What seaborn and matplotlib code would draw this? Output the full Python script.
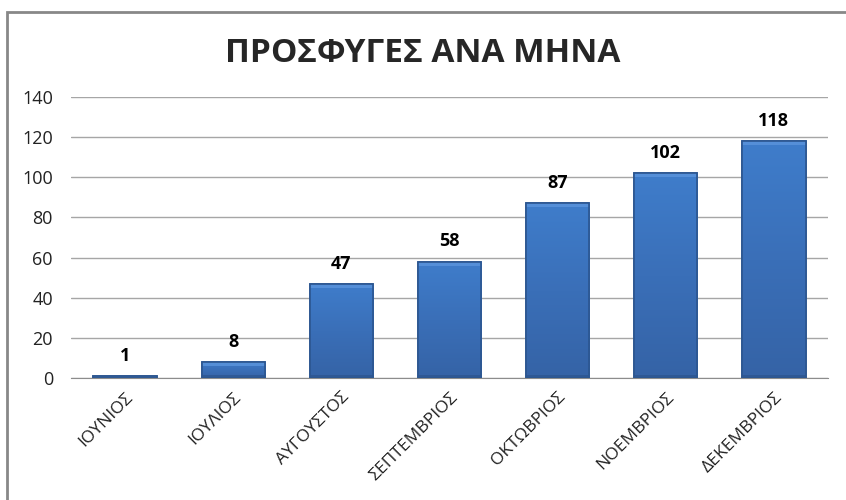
import matplotlib
matplotlib.use("Agg")
import matplotlib.pyplot as plt
import matplotlib.patches as mpatches
import numpy as np
import pandas as pd
import seaborn as sns

months = ["ΙΟΥΝΙΟΣ", "ΙΟΥΛΙΟΣ", "ΑΥΓΟΥΣΤΟΣ", "ΣΕΠΤΕΜΒΡΙΟΣ", "ΟΚΤΩΒΡΙΟΣ", "ΝΟΕΜΒΡΙΟΣ", "ΔΕΚΕΜΒΡΙΟΣ"]
refugees = [1, 8, 47, 58, 87, 102, 118]
y_ticks = [0, 20, 40, 60, 80, 100, 120, 140]

df = pd.DataFrame({"month": months, "count": refugees})

sns.set_style("white")
plt.rcParams['font.family'] = ['Open Sans', 'DejaVu Sans']

fig = plt.figure(figsize=(8.46, 5), dpi=100)
ax = fig.add_axes([71 / 846, 1 - 378 / 500, 757 / 846, 281 / 500])

sns.barplot(data=df, x="month", y="count", color="#3A70B8", width=0.585,
            saturation=1, ax=ax, zorder=3, edgecolor="#2C5690", linewidth=1.2)

# vertical gradient + bevel on each bar
cmap = matplotlib.colors.LinearSegmentedColormap.from_list(
    "bar", ["#3563A6", "#3A6FB8", "#3F7DCB"])
grad = np.linspace(0, 1, 256).reshape(-1, 1)
unit = 140 / 281  # data units per pixel
for p in list(ax.patches):
    x0, w, h = p.get_x(), p.get_width(), p.get_height()
    img = ax.imshow(grad, cmap=cmap, aspect="auto", origin="lower",
                    extent=[x0, x0 + w, 0, h], zorder=3.5)
    img.set_clip_path(p)
    top = min(h, 4 * unit)
    ax.add_patch(mpatches.Rectangle((x0, h - top), w, top, color="#5C95DC",
                                    zorder=3.6, lw=0, alpha=0.8))
    bot = min(h, 3 * unit)
    ax.add_patch(mpatches.Rectangle((x0, 0), w, bot, color="#2A5188",
                                    zorder=3.6, lw=0, alpha=0.6))
    ax.add_patch(mpatches.Rectangle((x0, 0), w, h, fill=False, edgecolor="#2C5690",
                                    zorder=3.7, lw=1.2))

for i, v in enumerate(refugees):
    ax.annotate(str(v), (i, v), xytext=(0, 8), textcoords="offset points",
                ha="center", va="bottom", fontsize=13, fontweight="bold", color="black")

ax.set_ylim(0, 140)
ax.set_xlim(-0.5, len(months) - 0.5)
ax.set_yticks(y_ticks)
ax.yaxis.grid(True, color="#A6A6A6", lw=1, zorder=0)
ax.set_axisbelow(True)
for s in ["left", "right", "top"]:
    ax.spines[s].set_visible(False)
ax.spines["bottom"].set_color("#8C8C8C")
ax.tick_params(axis="y", labelsize=13, colors="#222222", length=0, pad=13)
ax.tick_params(axis="x", length=0, pad=8)
plt.setp(ax.get_xticklabels(), rotation=45, ha="right", rotation_mode="anchor",
         fontsize=12.5, color="#222222")
ax.set_xlabel("")
ax.set_ylabel("")

fig.text(0.5, 1 - 53 / 500, "ΠΡΟΣΦΥΓΕΣ ΑΝΑ ΜΗΝΑ", ha="center", va="center",
         fontsize=24, fontweight="bold")

fig.add_artist(mpatches.Rectangle((7 / 846, -0.01), 1.0, 1 - 12 / 500 + 0.01,
                                  transform=fig.transFigure, fill=False,
                                  edgecolor="#888888", lw=2))

fig.savefig("out.png", dpi=100)
